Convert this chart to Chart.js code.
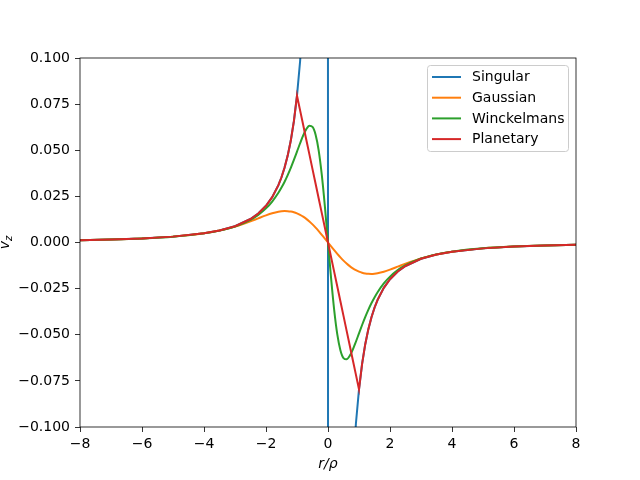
<!DOCTYPE html>
<html>
<head>
<meta charset="utf-8">
<script src="https://cdn.jsdelivr.net/npm/chart.js@4"></script>
<style>
  html, body { margin: 0; padding: 0; background: #fff; }
  #wrap { width: 640px; height: 480px; }
</style>
</head>
<body>
<div id="wrap"><canvas id="velChart" width="640" height="480"></canvas></div>
<script>
// r / rho sample positions
const rValues = [-8, -7, -6, -5, -4, -3.5, -3, -2.5, -2.25, -2, -1.8, -1.6, -1.5, -1.4, -1.3, -1.2, -1.1, -1,
  -0.9, -0.8, -0.7, -0.6, -0.5, -0.4, -0.3, -0.2, -0.1, 0, 0.1, 0.2, 0.3, 0.4, 0.5, 0.6, 0.7, 0.8, 0.9,
  1, 1.1, 1.2, 1.3, 1.4, 1.5, 1.6, 1.8, 2, 2.25, 2.5, 3, 3.5, 4, 5, 6, 7, 8];

const singular = [0.001243, 0.001624, 0.002210, 0.003183, 0.004974, 0.006496, 0.008842, 0.012732, 0.015719,
  0.019894, 0.024561, 0.031085, 0.035368, 0.040601, 0.047087, 0.055262, 0.065767, 0.079577,
  0.098244, 0.124340, 0.162403, 0.221049, 0.318310, 0.497359, 0.884194, 1.989437, 7.957747, null,
  -7.957747, -1.989437, -0.884194, -0.497359, -0.318310, -0.221049, -0.162403, -0.124340, -0.098244,
  -0.079577, -0.065767, -0.055262, -0.047087, -0.040601, -0.035368, -0.031085, -0.024561, -0.019894,
  -0.015719, -0.012732, -0.008842, -0.006496, -0.004974, -0.003183, -0.002210, -0.001624, -0.001243];

const gaussian = [0.001243, 0.001624, 0.002210, 0.003183, 0.004968, 0.006453, 0.008583, 0.011458, 0.013090,
  0.014693, 0.015815, 0.016645, 0.016900, 0.017022, 0.016991, 0.016790, 0.016402, 0.015816,
  0.015024, 0.014024, 0.012816, 0.011412, 0.009823, 0.008072, 0.006181, 0.004182, 0.002110, 0,
  -0.002110, -0.004182, -0.006181, -0.008072, -0.009823, -0.011412, -0.012816, -0.014024, -0.015024,
  -0.015816, -0.016402, -0.016790, -0.016991, -0.017022, -0.016900, -0.016645, -0.015815, -0.014693,
  -0.013090, -0.011458, -0.008583, -0.006453, -0.004968, -0.003183, -0.002210, -0.001624, -0.001243];

const winckelmans = [0.001243, 0.001623, 0.002207, 0.003174, 0.004942, 0.006428, 0.008682, 0.012300, 0.014963,
  0.018506, 0.022211, 0.026942, 0.029776, 0.032962, 0.036523, 0.040457, 0.044727, 0.049236,
  0.053785, 0.058036, 0.061460, 0.063308, 0.062635, 0.058423, 0.049847, 0.036650, 0.019483, 0,
  -0.019483, -0.036650, -0.049847, -0.058423, -0.062635, -0.063308, -0.061460, -0.058036, -0.053785,
  -0.049236, -0.044727, -0.040457, -0.036523, -0.032962, -0.029776, -0.026942, -0.022211, -0.018506,
  -0.014963, -0.012300, -0.008682, -0.006428, -0.004942, -0.003174, -0.002207, -0.001623, -0.001243];

const planetary = [0.001243, 0.001624, 0.002210, 0.003183, 0.004974, 0.006496, 0.008842, 0.012732, 0.015719,
  0.019894, 0.024561, 0.031085, 0.035368, 0.040601, 0.047087, 0.055262, 0.065767, 0.079577,
  0.071620, 0.063662, 0.055704, 0.047746, 0.039789, 0.031831, 0.023873, 0.015915, 0.007958, 0,
  -0.007958, -0.015915, -0.023873, -0.031831, -0.039789, -0.047746, -0.055704, -0.063662, -0.071620,
  -0.079577, -0.065767, -0.055262, -0.047087, -0.040601, -0.035368, -0.031085, -0.024561, -0.019894,
  -0.015719, -0.012732, -0.008842, -0.006496, -0.004974, -0.003183, -0.002210, -0.001624, -0.001243];

const seriesNames = ["Singular", "Gaussian", "Winckelmans", "Planetary"];
const seriesColors = ["#1f77b4", "#ff7f0e", "#2ca02c", "#d62728"];
const xTicks = [-8, -6, -4, -2, 0, 2, 4, 6, 8];
const yTicks = [-0.1, -0.075, -0.05, -0.025, 0, 0.025, 0.05, 0.075, 0.1];

const FONT = "DejaVu Sans";
const LINE_W = 2;
const minus = (s) => s.replace("-", "\u2212");

function toPoints(ys) {
  return rValues.map((r, i) => ({ x: r, y: ys[i] }));
}

const allSeries = [singular, gaussian, winckelmans, planetary];
const smooth = [false, true, true, false];

const datasets = allSeries.map((ys, i) => ({
  label: seriesNames[i],
  data: toPoints(ys),
  showLine: true,
  borderColor: seriesColors[i],
  backgroundColor: seriesColors[i],
  borderWidth: LINE_W,
  pointRadius: 0,
  spanGaps: true,
  tension: 0,
  cubicInterpolationMode: smooth[i] ? "monotone" : "default",
  order: 4 - i
}));

// frame, axis titles and legend in matplotlib style
const extras = {
  id: "extras",
  afterDatasetsDraw(chart) {
    const { ctx, chartArea: a } = chart;
    ctx.save();
    ctx.strokeStyle = "#000";
    ctx.lineWidth = 0.8;
    ctx.strokeRect(a.left, a.top, a.right - a.left, a.bottom - a.top);

    // x title
    ctx.fillStyle = "#000";
    ctx.font = "italic 14px " + FONT;
    ctx.textAlign = "center";
    ctx.textBaseline = "middle";
    ctx.fillText("r/\u03c1", (a.left + a.right) / 2, 464);

    // y title, rotated
    ctx.save();
    ctx.translate(5, (a.top + a.bottom) / 2);
    ctx.rotate(-Math.PI / 2);
    ctx.textAlign = "left";
    ctx.textBaseline = "alphabetic";
    ctx.font = "italic 14px " + FONT;
    const vw = ctx.measureText("v").width;
    ctx.font = "italic 10px " + FONT;
    const zw = ctx.measureText("z").width;
    const x0 = -(vw + zw) / 2;
    ctx.font = "italic 14px " + FONT;
    ctx.fillText("v", x0, 4);
    ctx.font = "italic 10px " + FONT;
    ctx.fillText("z", x0 + vw, 7);
    ctx.restore();

    // legend box
    const lx = 427.5, ly = 65.5, lw = 141, lh = 86, rad = 3;
    ctx.beginPath();
    ctx.moveTo(lx + rad, ly);
    ctx.arcTo(lx + lw, ly, lx + lw, ly + lh, rad);
    ctx.arcTo(lx + lw, ly + lh, lx, ly + lh, rad);
    ctx.arcTo(lx, ly + lh, lx, ly, rad);
    ctx.arcTo(lx, ly, lx + lw, ly, rad);
    ctx.closePath();
    ctx.fillStyle = "rgba(255,255,255,0.8)";
    ctx.fill();
    ctx.strokeStyle = "#cccccc";
    ctx.lineWidth = 1;
    ctx.stroke();

    ctx.font = "14px " + FONT;
    ctx.textAlign = "left";
    ctx.textBaseline = "middle";
    seriesNames.forEach((name, i) => {
      const y = 77 + i * 20.7;
      ctx.strokeStyle = seriesColors[i];
      ctx.lineWidth = LINE_W;
      ctx.beginPath();
      ctx.moveTo(432, y);
      ctx.lineTo(461, y);
      ctx.stroke();
      ctx.fillStyle = "#000";
      ctx.fillText(name, 472, y + 0.5);
    });
    ctx.restore();
  }
};

new Chart("velChart", {
  type: "scatter",
  data: { datasets: datasets },
  options: {
    responsive: false,
    animation: false,
    events: [],
    layout: { padding: { left: 0, right: 64, top: 58, bottom: 0 } },
    plugins: { legend: { display: false }, tooltip: { enabled: false } },
    scales: {
      x: {
        type: "linear",
        min: -8,
        max: 8,
        afterBuildTicks: (s) => { s.ticks = xTicks.map((v) => ({ value: v })); },
        afterFit: (s) => { s.height = 53; },
        border: { display: false },
        grid: { drawOnChartArea: false, drawTicks: true, tickLength: 5, color: "#000", lineWidth: 0.8 },
        ticks: {
          color: "#000",
          padding: 4,
          maxRotation: 0,
          font: { family: FONT, size: 14 },
          callback: (v) => minus(String(v))
        }
      },
      y: {
        type: "linear",
        min: -0.1,
        max: 0.1,
        afterBuildTicks: (s) => { s.ticks = yTicks.map((v) => ({ value: v })); },
        afterFit: (s) => { s.width = 80; },
        border: { display: false },
        grid: { drawOnChartArea: false, drawTicks: true, tickLength: 5, color: "#000", lineWidth: 0.8 },
        ticks: {
          color: "#000",
          padding: 5,
          font: { family: FONT, size: 14 },
          callback: (v) => minus(v.toFixed(3))
        }
      }
    }
  },
  plugins: [extras]
});
</script>
</body>
</html>
